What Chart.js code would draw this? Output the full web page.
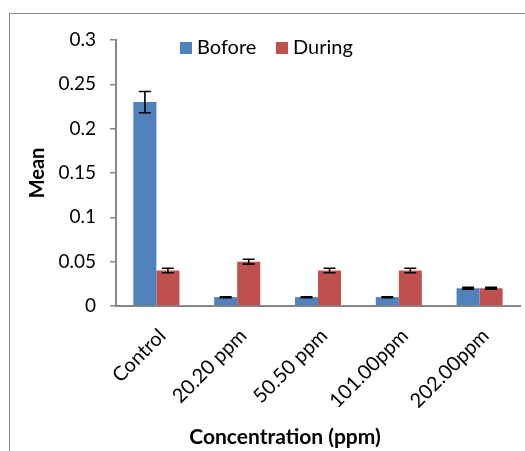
<!DOCTYPE html>
<html>
<head>
<meta charset="utf-8">
<script src="https://cdn.jsdelivr.net/npm/chart.js@4/dist/chart.umd.min.js"></script>
<style>
  html, body { margin: 0; padding: 0; background: #fff; }
  #wrap { position: relative; width: 525px; height: 451px; overflow: hidden; }
  #frame { position: absolute; left: 9px; top: 13px; width: 600px; height: 500px;
           border-left: 1px solid #8a8a8a; border-top: 1px solid #8a8a8a; }
  canvas { position: absolute; left: 0; top: 0; }
</style>
</head>
<body>
<div id="wrap">
  <div id="frame"></div>
  <canvas id="chart" width="525" height="451"></canvas>
</div>
<script>
// values
const categories = ['Control', '20.20 ppm', '50.50 ppm', '101.00ppm', '202.00ppm'];
const beforeMeans = [0.23, 0.01, 0.01, 0.01, 0.02];
const beforeErrors = [0.012, 0.0005, 0.0005, 0.0005, 0.001];
const duringMeans = [0.04, 0.05, 0.04, 0.04, 0.02];
const duringErrors = [0.0025, 0.0028, 0.0025, 0.0025, 0.001];
const yTicks = { min: 0, max: 0.3, step: 0.05 };
const xTitle = 'Concentration (ppm)';

const FONT = "Lato, 'Open Sans', sans-serif";
const AXIS_GRAY = '#868686';

// black error bars with caps, drawn through the y scale
const errorBars = {
  id: 'errorBars',
  afterDatasetsDraw(chart) {
    const { ctx } = chart;
    const y = chart.scales.y;
    chart.data.datasets.forEach((ds, i) => {
      const meta = chart.getDatasetMeta(i);
      meta.data.forEach((bar, j) => {
        const v = ds.data[j], e = ds.errors[j];
        const top = y.getPixelForValue(v + e);
        const bot = y.getPixelForValue(v - e);
        const x = bar.x, cap = 6;
        ctx.save();
        ctx.strokeStyle = '#000';
        ctx.lineWidth = 1.6;
        ctx.beginPath();
        ctx.moveTo(x, top); ctx.lineTo(x, bot);
        ctx.moveTo(x - cap, top); ctx.lineTo(x + cap, top);
        ctx.moveTo(x - cap, bot); ctx.lineTo(x + cap, bot);
        ctx.stroke();
        ctx.restore();
      });
    });
  }
};

// legend sits inside the plot, near the top; x title is centred on the
// whole frame rather than the plot area, like the original
const extras = {
  id: 'extras',
  afterDraw(chart) {
    const { ctx } = chart;
    let x = 180;
    const y = 42;
    ctx.save();
    ctx.font = '20px ' + FONT;
    ctx.textBaseline = 'middle';
    chart.data.datasets.forEach(ds => {
      ctx.fillStyle = ds.backgroundColor;
      ctx.fillRect(x, y, 12, 12);
      ctx.fillStyle = '#000';
      ctx.fillText(ds.label, x + 17, y + 6);
      x += 96;
    });
    ctx.font = 'bold 21px ' + FONT;
    ctx.textAlign = 'center';
    ctx.fillText(xTitle, 285, 437);
    ctx.restore();
  }
};

new Chart(document.getElementById('chart'), {
  type: 'bar',
  data: {
    labels: categories,
    datasets: [
      { label: 'Bofore', data: beforeMeans, errors: beforeErrors,
        backgroundColor: '#4F81BD', borderWidth: 0 },
      { label: 'During', data: duringMeans, errors: duringErrors,
        backgroundColor: '#C0504D', borderWidth: 0 },
    ],
  },
  options: {
    responsive: false,
    animation: false,
    devicePixelRatio: 1,
    layout: { padding: { top: 40, left: 10, right: 5, bottom: 0 } },
    categoryPercentage: 0.57,
    barPercentage: 1,
    plugins: { legend: { display: false }, tooltip: { enabled: false } },
    scales: {
      y: {
        min: yTicks.min,
        max: yTicks.max,
        afterFit(s) { s.width = 106; },
        ticks: { stepSize: yTicks.step, color: '#000', padding: 14,
                 font: { family: FONT, size: 19 },
                 callback: v => String(+v.toFixed(2)) },
        grid: { drawOnChartArea: false, drawTicks: true, tickLength: 6,
                color: AXIS_GRAY, lineWidth: 1.5 },
        border: { color: AXIS_GRAY, width: 2 },
        title: { display: true, text: 'Mean', color: '#000',
                 font: { family: FONT, size: 20, weight: 'bold' },
                 padding: { top: 16, bottom: 0 } },
      },
      x: {
        afterFit(s) { s.height = 145; },
        ticks: { color: '#000', minRotation: 45, maxRotation: 45, padding: 18,
                 labelOffset: 6, font: { family: FONT, size: 20 } },
        grid: { display: false, drawTicks: false },
        border: { color: AXIS_GRAY, width: 2 },
      },
    },
  },
  plugins: [errorBars, extras],
});
</script>
</body>
</html>
